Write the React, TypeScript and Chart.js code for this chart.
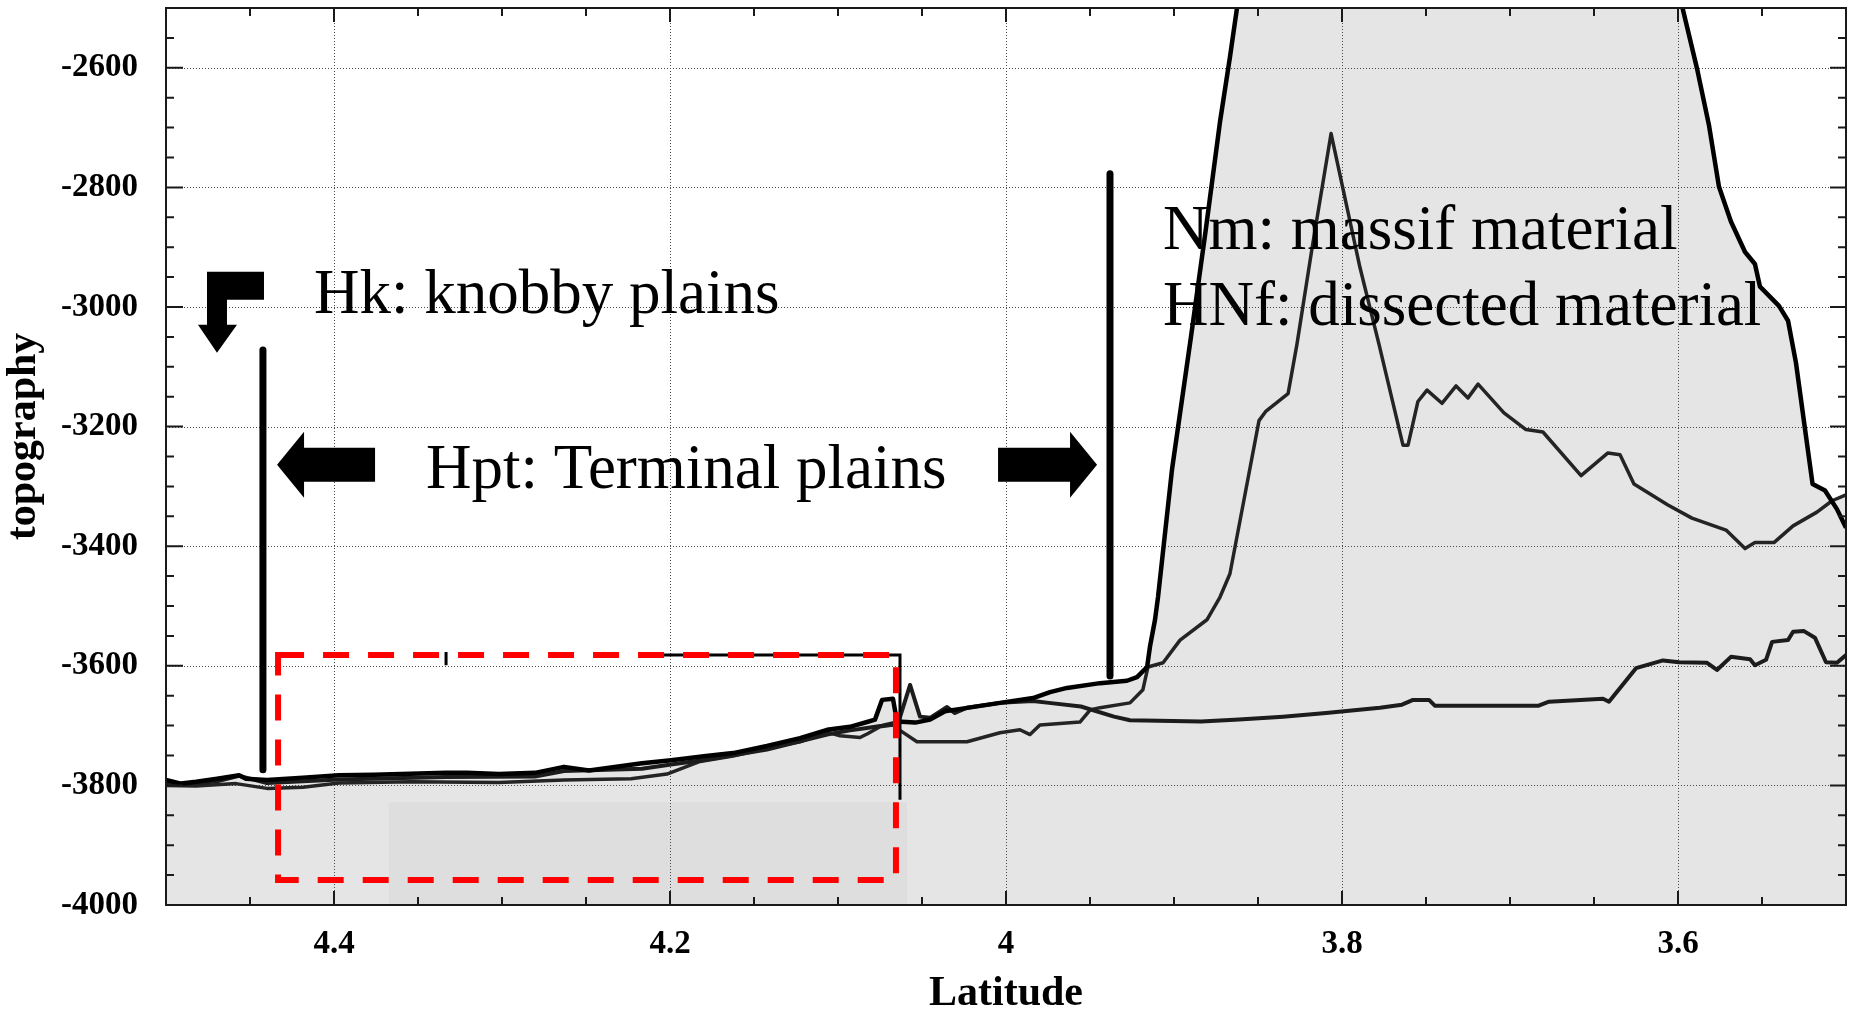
import React, { useEffect, useRef } from "react";
import { Chart, registerables } from "chart.js";

Chart.register(...registerables);

// ---------- data (latitude in degrees, topography in m) ----------
// Nm: massif material profile (thick black line)
const latA = [4.5, 4.4911, 4.4821, 4.4696, 4.4565, 4.4524, 4.4399, 4.4185, 4.397, 4.3762, 4.3333, 4.3208, 4.3018, 4.2804, 4.2631, 4.2482, 4.2167, 4.1994, 4.1786, 4.1625, 4.1423, 4.1226, 4.1065, 4.0929, 4.0827, 4.078, 4.0738, 4.0673, 4.0649, 4.054, 4.0452, 4.0363, 4.027, 4.0036, 3.9839, 3.9738, 3.9637, 3.944, 3.928, 3.922, 3.916, 3.9143, 3.9113, 3.9095, 3.9012, 3.8899, 3.881, 3.8726, 3.8667, 3.8625, 3.83, 3.72, 3.63, 3.5973, 3.5887, 3.5815, 3.5756, 3.5685, 3.5601, 3.5542, 3.5512, 3.5399, 3.5345, 3.5298, 3.5226, 3.5199, 3.5125, 3.5054, 3.5];
const topoA = [-3791, -3797, -3794, -3789, -3783, -3789, -3791, -3787, -3783, -3782, -3779, -3779, -3781, -3779, -3769, -3775, -3763, -3758, -3751, -3746, -3734, -3721, -3707, -3702, -3694, -3690, -3657, -3655, -3693, -3695, -3690, -3676, -3672, -3662, -3654, -3644, -3637, -3629, -3625, -3619, -3602, -3568, -3523, -3485, -3272, -3050, -2869, -2690, -2582, -2500, -2150, -2050, -2200, -2500, -2601, -2697, -2799, -2857, -2908, -2928, -2966, -2998, -3023, -3093, -3241, -3296, -3307, -3338, -3369];

// flat profile
const latB = [4.5, 4.4911, 4.4696, 4.4565, 4.4399, 4.397, 4.3333, 4.2804, 4.2631, 4.2167, 4.1994, 4.1786, 4.1423, 4.1065, 4.0929, 4.0827, 4.0738, 4.0673, 4.0649, 4.0571, 4.0512, 4.0452, 4.0351, 4.0304, 4.0232, 4.0036, 3.984, 3.9744, 3.9554, 3.9357, 3.9262, 3.8839, 3.8613, 3.8351, 3.8095, 3.7774, 3.7643, 3.7577, 3.7482, 3.7446, 3.6833, 3.6768, 3.6446, 3.6411, 3.625, 3.6089, 3.5994, 3.5827, 3.5768, 3.5685, 3.5571, 3.5542, 3.5476, 3.544, 3.5345, 3.5315, 3.525, 3.5185, 3.5119, 3.5054, 3.5];
const topoB = [-3795, -3799, -3793, -3784, -3796, -3790, -3786, -3785, -3776, -3772, -3765, -3757, -3740, -3715, -3708, -3704, -3700, -3696, -3702, -3632, -3685, -3687, -3669, -3679, -3670, -3662, -3659, -3662, -3668, -3685, -3691, -3693, -3690, -3685, -3679, -3670, -3665, -3657, -3657, -3667, -3667, -3660, -3655, -3660, -3604, -3591, -3594, -3595, -3607, -3585, -3589, -3599, -3590, -3560, -3557, -3543, -3542, -3553, -3594, -3595, -3582];

// peaked profile (HNf)
const latC = [4.5, 4.4821, 4.4583, 4.4399, 4.4185, 4.397, 4.3542, 4.3018, 4.2631, 4.2232, 4.2018, 4.1821, 4.1625, 4.1423, 4.1226, 4.1065, 4.0988, 4.0869, 4.0827, 4.075, 4.0673, 4.0631, 4.053, 4.0232, 4.0036, 3.9917, 3.9857, 3.9798, 3.956, 3.95, 3.944, 3.9262, 3.9185, 3.9155, 3.9065, 3.8964, 3.8804, 3.8726, 3.8667, 3.8494, 3.8452, 3.8321, 3.8268, 3.8179, 3.8065, 3.7893, 3.778, 3.7637, 3.7607, 3.7548, 3.7494, 3.7405, 3.7321, 3.725, 3.719, 3.7036, 3.6905, 3.6804, 3.6577, 3.6417, 3.6345, 3.6262, 3.606, 3.5917, 3.5714, 3.5601, 3.5542, 3.5429, 3.5315, 3.5173, 3.5083, 3.5];
const topoC = [-3800, -3801, -3797, -3805, -3803, -3796, -3794, -3795, -3791, -3789, -3781, -3760, -3751, -3738, -3727, -3711, -3717, -3720, -3714, -3702, -3699, -3708, -3727, -3727, -3712, -3707, -3715, -3699, -3694, -3674, -3670, -3662, -3640, -3602, -3595, -3557, -3523, -3485, -3446, -3190, -3174, -3145, -3062, -2903, -2710, -2934, -3062, -3231, -3231, -3158, -3139, -3161, -3132, -3152, -3129, -3177, -3205, -3209, -3282, -3244, -3247, -3296, -3331, -3353, -3373, -3404, -3394, -3394, -3366, -3343, -3324, -3314];

// axes
const xTickValues = [4.4, 4.2, 4.0, 3.8, 3.6];
const yTickValues = [-4000, -3800, -3600, -3400, -3200, -3000, -2800, -2600];
const X_MIN = 3.5;
const X_MAX = 4.5;
const Y_MIN = -4000;
const Y_MAX = -2500;
const X_MINOR_STEP = 0.05;
const Y_MINOR_STEP = 50;
const X_TITLE = "Latitude";
const Y_TITLE = "topography";

// annotations (data coordinates)
const labelTexts = [
  { text: "Hk: knobby plains", lat: 4.4119, topo: -3010 },
  { text: "Hpt: Terminal plains", lat: 4.3452, topo: -3303 },
  { text: "Nm: massif material", lat: 3.9065, topo: -2903 },
  { text: "HNf: dissected material", lat: 3.9065, topo: -3030 },
];
const boundaryLines = [
  { lat: 4.4423, from: -3072, to: -3774 },
  { lat: 3.9381, from: -2777, to: -3617 },
];
const redBox = { lat1: 4.4333, lat2: 4.0655, topo1: -3582, topo2: -3958 };
const greyPatch = { lat1: 4.3673, lat2: 4.0589, topo1: -3828, topo2: -4000 };
const arrowBent = { lat: 4.4756, topo: -2941 };
const arrowLeft = { lat: 4.4339, topo: -3264 };
const arrowRight = { lat: 3.9458, topo: -3264 };

const SERIF = "'Liberation Serif', 'Times New Roman', Times, serif";
const FILL = "#e5e5e5";

const zip = (xs: number[], ys: number[]) => xs.map((v, i) => ({ x: v, y: ys[i] }));

const decorPlugin = {
  id: "decor",
  beforeDatasetsDraw(chart: any) {
    const { ctx, chartArea: ca, scales } = chart;
    const x = scales.x;
    const y = scales.y;
    ctx.save();
    // flat grey patch
    const p1 = x.getPixelForValue(greyPatch.lat1);
    const p2 = x.getPixelForValue(greyPatch.lat2);
    const q1 = y.getPixelForValue(greyPatch.topo1);
    const q2 = y.getPixelForValue(greyPatch.topo2);
    ctx.fillStyle = "#dedede";
    ctx.fillRect(Math.min(p1, p2), Math.min(q1, q2), Math.abs(p2 - p1), Math.abs(q2 - q1));
    // dotted grid
    ctx.strokeStyle = "#4a4a4a";
    ctx.lineWidth = 1;
    ctx.setLineDash([1, 2]);
    ctx.beginPath();
    xTickValues.forEach((v) => {
      const px = Math.round(x.getPixelForValue(v)) + 0.5;
      ctx.moveTo(px, ca.top);
      ctx.lineTo(px, ca.bottom);
    });
    yTickValues.forEach((v) => {
      if (v === Y_MIN) return;
      const py = Math.round(y.getPixelForValue(v)) + 0.5;
      ctx.moveTo(ca.left, py);
      ctx.lineTo(ca.right, py);
    });
    ctx.stroke();
    ctx.restore();
  },
  afterDraw(chart: any) {
    const { ctx, chartArea: ca, scales } = chart;
    const x = scales.x;
    const y = scales.y;
    ctx.save();

    // frame
    ctx.strokeStyle = "#1a1a1a";
    ctx.lineWidth = 2;
    ctx.strokeRect(ca.left, ca.top, ca.right - ca.left, ca.bottom - ca.top);

    // inward ticks
    ctx.lineWidth = 2;
    ctx.beginPath();
    const nx = Math.round((X_MAX - X_MIN) / X_MINOR_STEP);
    for (let i = 1; i < nx; i++) {
      const v = X_MIN + i * X_MINOR_STEP;
      const major = xTickValues.some((t) => Math.abs(t - v) < 1e-6);
      const len = major ? 14 : 8;
      const px = x.getPixelForValue(v);
      ctx.moveTo(px, ca.bottom);
      ctx.lineTo(px, ca.bottom - len);
      ctx.moveTo(px, ca.top);
      ctx.lineTo(px, ca.top + len);
    }
    const ny = Math.round((Y_MAX - Y_MIN) / Y_MINOR_STEP);
    for (let j = 1; j < ny; j++) {
      const v = Y_MIN + j * Y_MINOR_STEP;
      const major = yTickValues.includes(v);
      const py = y.getPixelForValue(v);
      ctx.moveTo(ca.left, py);
      ctx.lineTo(ca.left + (major ? 17 : 8), py);
      ctx.moveTo(ca.right, py);
      ctx.lineTo(ca.right - (major ? 16 : 8), py);
    }
    ctx.stroke();

    // y axis title
    ctx.save();
    ctx.translate(24, (ca.top + ca.bottom) / 2 - 20);
    ctx.rotate(-Math.PI / 2);
    ctx.font = `bold 42px ${SERIF}`;
    ctx.fillStyle = "#000";
    ctx.textAlign = "center";
    ctx.textBaseline = "middle";
    ctx.fillText(Y_TITLE, 0, 0);
    ctx.restore();

    // black artefact lines near the red box
    ctx.strokeStyle = "#000";
    ctx.lineWidth = 3;
    ctx.beginPath();
    ctx.moveTo(x.getPixelForValue(4.2036), y.getPixelForValue(-3582));
    ctx.lineTo(x.getPixelForValue(4.0631), y.getPixelForValue(-3582));
    ctx.lineTo(x.getPixelForValue(4.0631), y.getPixelForValue(-3824));
    ctx.moveTo(x.getPixelForValue(4.3333), y.getPixelForValue(-3577));
    ctx.lineTo(x.getPixelForValue(4.3333), y.getPixelForValue(-3599));
    ctx.stroke();

    // red dashed box
    ctx.strokeStyle = "#ff0000";
    ctx.lineWidth = 6;
    ctx.setLineDash([26, 19]);
    const bx1 = x.getPixelForValue(redBox.lat1);
    const bx2 = x.getPixelForValue(redBox.lat2);
    const by1 = y.getPixelForValue(redBox.topo1);
    const by2 = y.getPixelForValue(redBox.topo2);
    ctx.strokeRect(bx1, by1, bx2 - bx1, by2 - by1);
    ctx.setLineDash([]);

    // vertical boundary lines
    ctx.strokeStyle = "#000";
    ctx.lineWidth = 7;
    ctx.lineCap = "round";
    boundaryLines.forEach((l) => {
      const px = x.getPixelForValue(l.lat);
      ctx.beginPath();
      ctx.moveTo(px, y.getPixelForValue(l.from));
      ctx.lineTo(px, y.getPixelForValue(l.to));
      ctx.stroke();
    });

    // arrows
    const poly = (ax: number, ay: number, pts: number[][]) => {
      ctx.beginPath();
      pts.forEach(([dx, dy], k) => (k === 0 ? ctx.moveTo(ax + dx, ay + dy) : ctx.lineTo(ax + dx, ay + dy)));
      ctx.closePath();
      ctx.fill();
    };
    ctx.fillStyle = "#000";
    poly(x.getPixelForValue(arrowBent.lat), y.getPixelForValue(arrowBent.topo), [
      [0, 0], [57, 0], [57, 28], [20, 28], [20, 53], [30, 53], [10, 81], [-9, 53], [0, 53],
    ]);
    poly(x.getPixelForValue(arrowLeft.lat), y.getPixelForValue(arrowLeft.topo), [
      [0, 0], [27, -33], [27, -17], [98, -17], [98, 17], [27, 17], [27, 33],
    ]);
    poly(x.getPixelForValue(arrowRight.lat), y.getPixelForValue(arrowRight.topo), [
      [0, 0], [-27, -33], [-27, -17], [-99, -17], [-99, 17], [-27, 17], [-27, 33],
    ]);

    // texts
    ctx.font = `63px ${SERIF}`;
    ctx.textAlign = "left";
    ctx.textBaseline = "alphabetic";
    labelTexts.forEach((t) => {
      ctx.fillText(t.text, x.getPixelForValue(t.lat), y.getPixelForValue(t.topo));
    });
    ctx.restore();
  },
};

export default function App() {
  const canvasRef = useRef<HTMLCanvasElement | null>(null);

  useEffect(() => {
    if (!canvasRef.current) return;
    const lineDs = (label: string, xs: number[], ys: number[], color: string, width: number) => ({
      label,
      data: zip(xs, ys),
      borderColor: color,
      borderWidth: width,
      backgroundColor: FILL,
      fill: "start",
      pointRadius: 0,
      tension: 0,
      borderJoinStyle: "round",
    });
    const chart = new Chart(canvasRef.current, {
      type: "line",
      data: {
        datasets: [
          lineDs("Nm profile", latA, topoA, "#000000", 4.5),
          lineDs("flat profile", latB, topoB, "#1c1c1c", 4),
          lineDs("HNf profile", latC, topoC, "#242424", 3.5),
        ] as any,
      },
      options: {
        animation: false,
        responsive: true,
        maintainAspectRatio: false,
        parsing: false,
        layout: { padding: { top: 8, right: 6, left: 0, bottom: 0 } },
        plugins: {
          legend: { display: false },
          tooltip: { enabled: false },
          filler: { drawTime: "beforeDatasetsDraw" },
        } as any,
        scales: {
          x: {
            type: "linear",
            min: X_MIN,
            max: X_MAX,
            reverse: true,
            afterBuildTicks: (s: any) => {
              s.ticks = xTickValues.map((v) => ({ value: v }));
            },
            afterFit: (s: any) => {
              s.height = 107;
              s.paddingLeft = 0;
              s.paddingRight = 0;
              s.paddingTop = 0;
              s.paddingBottom = 0;
            },
            grid: { display: false, drawTicks: false, tickLength: 0 },
            border: { display: false },
            ticks: {
              padding: 20,
              color: "#000",
              maxRotation: 0,
              autoSkip: false,
              font: { family: SERIF, size: 33, weight: "bold" },
              callback: (v: any) => String(v),
            },
            title: {
              display: true,
              text: X_TITLE,
              color: "#000",
              padding: { top: 0, bottom: -3 },
              font: { family: SERIF, size: 42, weight: "bold", lineHeight: 1 },
            },
          },
          y: {
            type: "linear",
            min: Y_MIN,
            max: Y_MAX,
            afterBuildTicks: (s: any) => {
              s.ticks = yTickValues.map((v) => ({ value: v }));
            },
            afterFit: (s: any) => {
              s.width = 166;
              s.paddingLeft = 0;
              s.paddingRight = 0;
              s.paddingTop = 0;
              s.paddingBottom = 0;
            },
            grid: { display: false, drawTicks: false, tickLength: 0 },
            border: { display: false },
            ticks: {
              padding: 28,
              color: "#000",
              autoSkip: false,
              font: { family: SERIF, size: 33, weight: "bold" },
              callback: (v: any) => String(v),
            },
            title: { display: false, text: Y_TITLE },
          },
        },
      } as any,
      plugins: [decorPlugin],
    });
    return () => chart.destroy();
  }, []);

  return (
    <div style={{ position: "fixed", left: 0, top: 0, width: "1852px", height: "1012px", background: "#fff" }}>
      <canvas ref={canvasRef} />
    </div>
  );
}
